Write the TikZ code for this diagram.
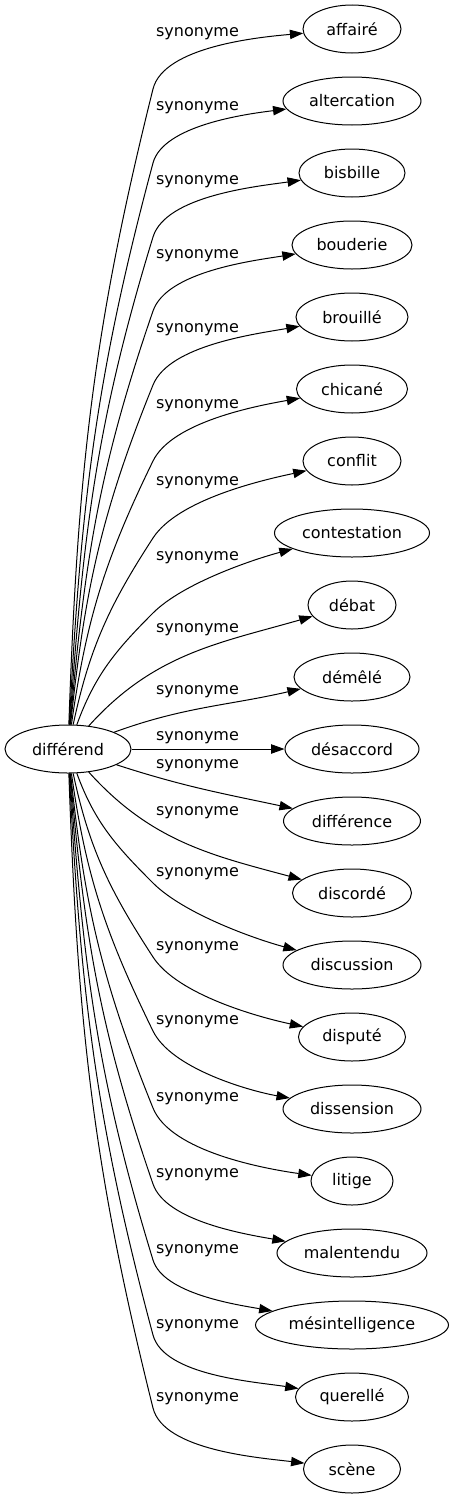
\documentclass[tikz,border=0pt]{standalone}
\usepackage{fontspec}
\setmainfont{DejaVu Sans}
\usetikzlibrary{shapes.geometric,arrows.meta}
\begin{document}
\begin{tikzpicture}[x=0.75pt,y=0.75pt,
  word/.style={ellipse,draw,line width=0.75pt,inner sep=0pt,minimum height=36pt,font=\fontsize{12}{14}\selectfont},
  rel/.style={font=\fontsize{12}{14}\selectfont,inner sep=0pt},
  edge/.style={line width=0.75pt,-{Triangle[length=10pt,width=7pt]}},
  seg/.style={looseness=0.7}]
\useasboundingbox (0,0) rectangle (454,-1499);
% nodes
\node[word,minimum width=94.5pt] (d) at (68,-749) {différend};
\node[word,minimum width=73.5pt] (t0) at (352,-29) {affairé};
\node[word,minimum width=103.5pt] (t1) at (352,-101) {altercation};
\node[word,minimum width=79.5pt] (t2) at (352,-173) {bisbille};
\node[word,minimum width=90pt] (t3) at (352,-245) {bouderie};
\node[word,minimum width=84pt] (t4) at (352,-317) {brouillé};
\node[word,minimum width=83.25pt] (t5) at (352,-389) {chicané};
\node[word,minimum width=73.5pt] (t6) at (352,-461) {conflit};
\node[word,minimum width=116.25pt] (t7) at (352,-533) {contestation};
\node[word,minimum width=66pt] (t8) at (352,-605) {débat};
\node[word,minimum width=87pt] (t9) at (352,-677) {démêlé};
\node[word,minimum width=100.5pt] (t10) at (352,-749) {désaccord};
\node[word,minimum width=102.75pt] (t11) at (352,-821) {différence};
\node[word,minimum width=89.25pt] (t12) at (352,-893) {discordé};
\node[word,minimum width=103.5pt] (t13) at (352,-965) {discussion};
\node[word,minimum width=80.25pt] (t14) at (352,-1037) {disputé};
\node[word,minimum width=103.5pt] (t15) at (352,-1109) {dissension};
\node[word,minimum width=61.5pt] (t16) at (352,-1181) {litige};
\node[word,minimum width=112.5pt] (t17) at (352,-1253) {malentendu};
\node[word,minimum width=144.75pt] (t18) at (352,-1325) {mésintelligence};
\node[word,minimum width=84.75pt] (t19) at (352,-1397) {querellé};
\node[word,minimum width=72.75pt] (t20) at (352,-1469) {scène};
% labels
\foreach \ly [count=\k] in {34,108,182,256,330,406,483,558,630,692,738,766,813,874,948,1022,1099,1175,1251,1326,1399}
  \node[rel] (l\k) at (197.5,-\ly) {synonyme};
% bend points
\coordinate (b0) at (153,-89);
\coordinate (b1) at (153,-163);
\coordinate (b2) at (153,-237);
\coordinate (b3) at (153,-311);
\coordinate (b4) at (153,-385);
\coordinate (b5) at (153,-461);
\coordinate (b6) at (153,-538);
\coordinate (b7) at (153,-613);
\coordinate (b13) at (153,-883);
\coordinate (b14) at (153,-957);
\coordinate (b15) at (153,-1031);
\coordinate (b16) at (153,-1108);
\coordinate (b17) at (153,-1184);
\coordinate (b18) at (153,-1260);
\coordinate (b19) at (153,-1335);
\coordinate (b20) at (153,-1408);
% edges up
\draw[edge] (d) to[out=88,in=256] (b0) to[out=76,in=185,seg] (t0);
\draw[edge] (d) to[out=87,in=255] (b1) to[out=75,in=187,seg] (t1);
\draw[edge] (d) to[out=86,in=253] (b2) to[out=73,in=188,seg] (t2);
\draw[edge] (d) to[out=85,in=251] (b3) to[out=71,in=189,seg] (t3);
\draw[edge] (d) to[out=84,in=248] (b4) to[out=68,in=190,seg] (t4);
\draw[edge] (d) to[out=82,in=244] (b5) to[out=64,in=190,seg] (t5);
\draw[edge] (d) to[out=78,in=237] (b6) to[out=57,in=192,seg] (t6);
\draw[edge] (d) to[out=70,in=225] (b7) to[out=45,in=195,seg] (t7);
% middle
\draw[edge] (d) to[out=48,in=196] (t8);
\draw[edge] (d) to[out=20,in=193] (t9);
\draw[edge] (d) -- (t10);
\draw[edge] (d) to[out=-18,in=168] (t11);
\draw[edge] (d) to[out=-48,in=165] (t12);
% edges down
\draw[edge] (d) to[out=-70,in=135] (b13) to[out=-45,in=165,seg] (t13);
\draw[edge] (d) to[out=-78,in=123] (b14) to[out=-57,in=168,seg] (t14);
\draw[edge] (d) to[out=-82,in=116] (b15) to[out=-64,in=170,seg] (t15);
\draw[edge] (d) to[out=-84,in=112] (b16) to[out=-68,in=172,seg] (t16);
\draw[edge] (d) to[out=-85,in=109] (b17) to[out=-71,in=170,seg] (t17);
\draw[edge] (d) to[out=-86,in=107] (b18) to[out=-73,in=170,seg] (t18);
\draw[edge] (d) to[out=-87,in=105] (b19) to[out=-75,in=171,seg] (t19);
\draw[edge] (d) to[out=-88,in=104] (b20) to[out=-76,in=173,seg] (t20);
\end{tikzpicture}
\end{document}
